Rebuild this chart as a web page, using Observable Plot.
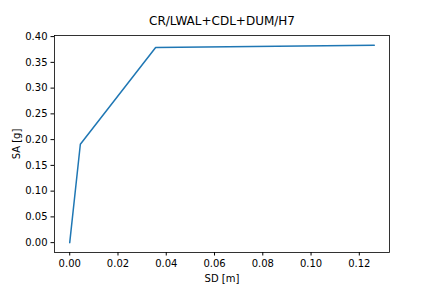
<!DOCTYPE html>
<html>
<head>
<meta charset="utf-8">
<script src="https://cdn.jsdelivr.net/npm/d3@7"></script>
<script src="https://cdn.jsdelivr.net/npm/@observablehq/plot@0.6"></script>
<style>
html, body { margin: 0; padding: 0; background: #fff; }
</style>
</head>
<body>
<div id="chart"></div>
<script>
const title = "CR/LWAL+CDL+DUM/H7";
const sd = [0, 0.0044, 0.0356, 0.1262];
const sa = [0, 0.191, 0.379, 0.383];
const xTicks = [0, 0.02, 0.04, 0.06, 0.08, 0.10, 0.12];
const yTicks = [0, 0.05, 0.10, 0.15, 0.20, 0.25, 0.30, 0.35, 0.40];
const xLabel = "SD [m]";
const yLabel = "SA [g]";

const data = sd.map((x, i) => ({x, y: sa[i]}));
const xMax = d3.max(sd), yMax = d3.max(sa);

const plot = Plot.plot({
  width: 432,
  height: 288,
  marginLeft: 54,
  marginRight: 43,
  marginTop: 35,
  marginBottom: 36,
  style: {fontFamily: "DejaVu Sans", fontSize: "10px", color: "#000", background: "#fff"},
  x: {domain: [-0.05 * xMax, 1.05 * xMax]},
  y: {domain: [-0.05 * yMax, 1.05 * yMax]},
  marks: [
    Plot.axisX({ticks: xTicks, tickFormat: d3.format(".2f"), tickSize: 3.5, tickPadding: 3.5, label: xLabel, labelArrow: "none", labelAnchor: "center", labelOffset: 29, fontSize: 10}),
    Plot.axisY({ticks: yTicks, tickFormat: d3.format(".2f"), tickSize: 3.5, tickPadding: 3.5, label: yLabel, labelArrow: "none", labelAnchor: "center", labelOffset: 42, fontSize: 10}),
    Plot.line(data, {x: "x", y: "y", stroke: "#1f77b4", strokeWidth: 1.5}),
    Plot.frame({stroke: "#000", strokeWidth: 0.8}),
    Plot.text([title], {frameAnchor: "top", text: d => d, dy: -11, fontSize: 12, lineAnchor: "bottom"})
  ]
});
document.getElementById("chart").appendChild(plot);
</script>
</body>
</html>
